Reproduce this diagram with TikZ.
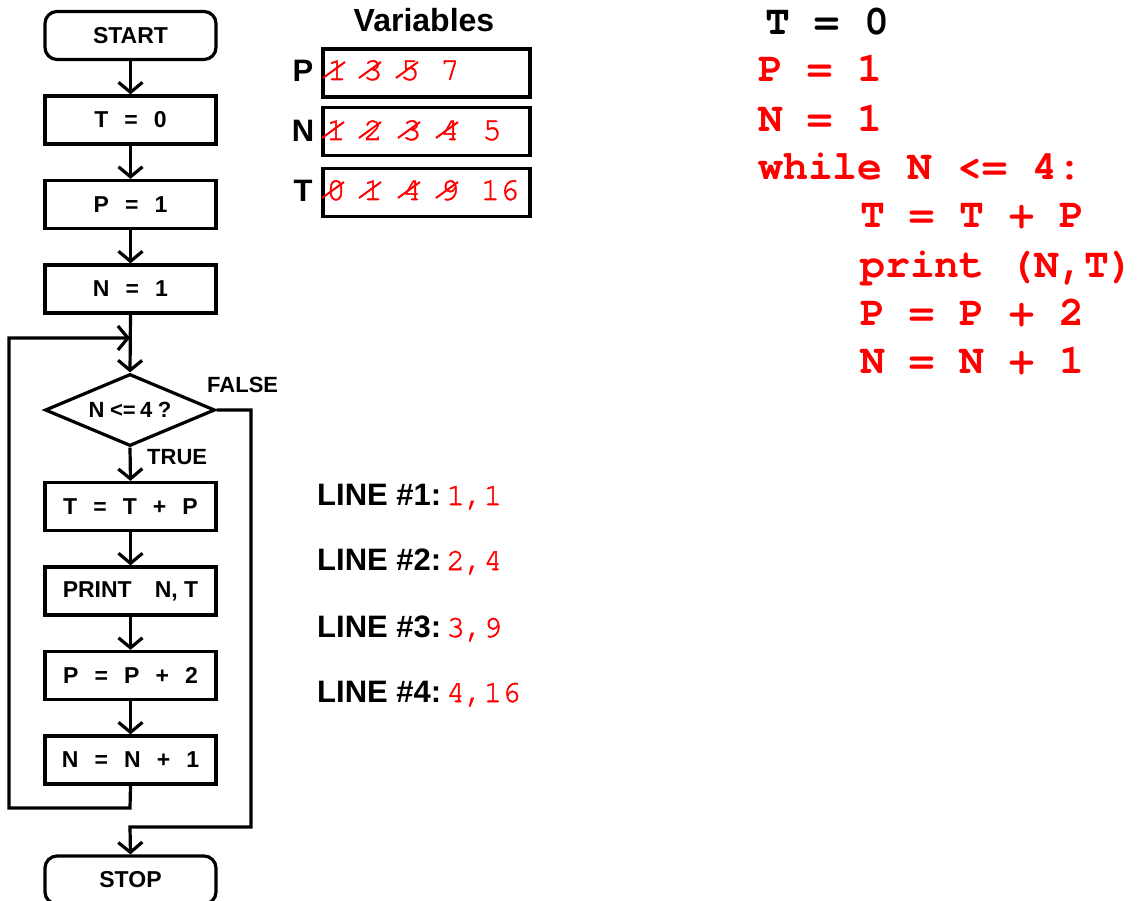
\documentclass[tikz,border=0pt]{standalone}
\usepackage{fontspec}
\setmainfont{Liberation Sans}
\newfontfamily\monofont{TeX Gyre Cursor}
\newfontfamily\digfont[FakeBold=1.6]{TeX Gyre Cursor}
\usetikzlibrary{arrows.meta,shapes.geometric,calc}
\definecolor{codered}{RGB}{255,0,0}
\newcommand{\gap}{\hspace{0.7em}}
\begin{document}
\begin{tikzpicture}[x=1pt,y=-1pt,
  box/.style={draw,line width=3.2pt,minimum width=171pt,minimum height=48pt,inner sep=0pt,font=\fontsize{23}{23}\selectfont\bfseries},
  term/.style={box,rounded corners=12pt},
  decision/.style={draw,line width=3.2pt,shape=diamond,aspect=2.36,minimum width=170pt,minimum height=72pt,inner sep=0pt,font=\fontsize{22}{22}\selectfont\bfseries},
  flow/.style={line width=3.2pt},
  arr/.style={flow,-{Straight Barb[length=10pt,width=24pt]}},
  lbl/.style={font=\fontsize{22}{22}\selectfont\bfseries,anchor=west,inner sep=0pt},
  varbox/.style={draw,line width=3.2pt,minimum width=207pt,minimum height=48pt,inner sep=0pt},
  varname/.style={font=\fontsize{31}{31}\selectfont\bfseries,anchor=base,inner sep=0pt},
  dig/.style={font=\fontsize{32}{32}\selectfont\digfont,text=codered,anchor=base,inner sep=0pt},
  strike/.style={draw=codered,line width=2pt},
  code/.style={font=\fontsize{41.5}{41.5}\selectfont\monofont\bfseries,text=codered,anchor=base west,inner sep=0pt},
  outline/.style={font=\fontsize{31}{31}\selectfont\bfseries,anchor=base west,inner sep=0pt}
]
\useasboundingbox (0,0) rectangle (1139,901);

% flowchart nodes
\node[term] (start) at (130.5,35.5) {START};
\node[box] (t0) at (130.5,120) {T\gap=\gap0};
\node[box] (p1) at (130.5,204.5) {P\gap=\gap1};
\node[box] (n1) at (130.5,289) {N\gap=\gap1};
\node[decision] (dec) at (130,410) {N\kern0.25em<=\kern0.2em4\kern0.25em?};
\node[box] (ttp) at (130.5,506.5) {T\gap=\gap T\gap+\gap P};
\node[box] (prt) at (130.5,591) {PRINT\hspace{1em}N, T};
\node[box] (pp2) at (130.5,675.5) {P\gap=\gap P\gap+\gap 2};
\node[box] (nn1) at (130.5,760) {N\gap=\gap N\gap+\gap 1};
\node[term] (stop) at (130.5,880) {STOP};

\node[lbl] (false) at (207,385) {FALSE};
\node[lbl] (true) at (147,457) {TRUE};

\coordinate (jn) at (130,338);
\coordinate (lb1) at (130,808);
\coordinate (lb2) at (9,808);
\coordinate (lb3) at (9,338);
\coordinate (f1) at (251,410);
\coordinate (f2) at (251,827);
\coordinate (f3) at (130,827);

\draw[arr] (start) -- (t0);
\draw[arr] (t0) -- (p1);
\draw[arr] (p1) -- (n1);
\draw[arr] (n1.south) -- (dec.north);
\draw[arr] (dec.south) -- (ttp.north);
\draw[arr] (ttp) -- (prt);
\draw[arr] (prt) -- (pp2);
\draw[arr] (pp2) -- (nn1);
\draw[arr] (nn1.south) -- (lb1) -- (lb2) -- (lb3) -- (jn);
\draw[arr] (dec.east) -- (f1) -- (f2) -- (f3) -- (stop.north);

% variables
\node[font=\fontsize{32}{32}\selectfont\bfseries,anchor=base,inner sep=0pt] (vtitle) at (424,32) {Variables};
\node[varbox] (vp) at (426.5,73) {};
\node[varbox] (vn) at (426.5,131.5) {};
\node[varbox] (vt) at (426.5,192.5) {};
\node[varname] (lp) at (303,82) {P};
\node[varname] (ln) at (303,142) {N};
\node[varname] (lt) at (303,202) {T};

\node[dig] (pa) at (337,80) {1};
\node[dig] (pb) at (373,80) {3};
\node[dig] (pc) at (410,80) {5};
\node[dig] (pd) at (450,80) {7};

\node[dig] (na) at (336,140) {1};
\node[dig] (nb) at (373,140) {2};
\node[dig] (nc) at (412,140) {3};
\node[dig] (nd) at (450,140) {4};
\node[dig] (ne) at (492,140) {5};

\node[dig] (ta) at (336,200) {0};
\node[dig] (tb) at (373,200) {1};
\node[dig] (tc) at (412,200) {4};
\node[dig] (td) at (450,200) {9};
\node[dig] (te) at (500,200) {16};

\foreach \d in {pa,pb,pc,na,nb,nc,nd,ta,tb,tc,td}{
  \draw[strike] ($(\d.base)+(-14,-2)$) -- ($(\d.base)+(8,-18)$);
}

% output lines
\node[outline] (o1) at (317,505) {LINE \#1:\,{\digfont\mdseries\color{codered}1,1}};
\node[outline] (o2) at (317,570) {LINE \#2:\,{\digfont\mdseries\color{codered}2,4}};
\node[outline] (o3) at (317,637) {LINE \#3:\,{\digfont\mdseries\color{codered}3,9}};
\node[outline] (o4) at (317,702) {LINE \#4:\,{\digfont\mdseries\color{codered}4,16}};

% code
\node[code,text=black] (c0) at (765,35) {T = 0};
\node[code] (c1) at (758,82) {P = 1};
\node[code] (c2) at (758,132) {N = 1};
\node[code] (c3) at (758,180) {while N <= 4:};
\node[code] (c4) at (860,228) {T = T + P};
\node[code] (c5) at (860,277) {print (N,T)};
\node[code] (c6) at (860,325) {P = P + 2};
\node[code] (c7) at (860,373) {N = N + 1};
\end{tikzpicture}
\end{document}
